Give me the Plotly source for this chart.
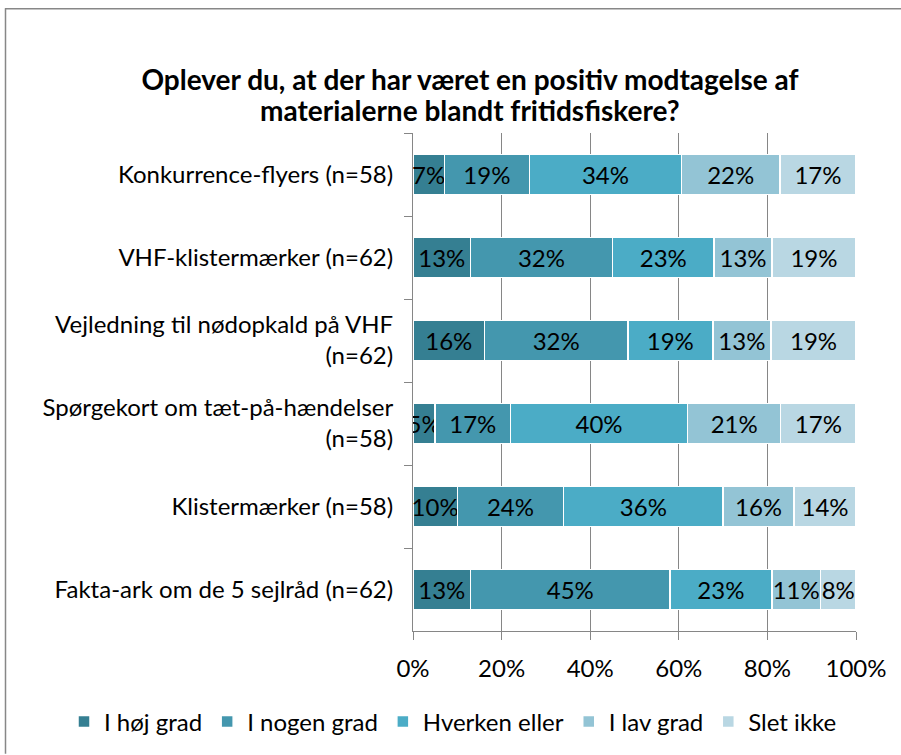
import plotly.graph_objects as go

categories = [
    "Konkurrence-flyers (n=58)",
    "VHF-klistermærker (n=62)",
    "Vejledning til nødopkald på VHF<br>(n=62)",
    "Spørgekort om tæt-på-hændelser<br>(n=58)",
    "Klistermærker (n=58)",
    "Fakta-ark om de 5 sejlråd (n=62)",
]
series_names = ["I høj grad", "I nogen grad", "Hverken eller", "I lav grad", "Slet ikke"]
hoej = [7, 13, 16, 5, 10, 13]
nogen = [19, 32, 32, 17, 24, 45]
hverken = [34, 23, 19, 40, 36, 23]
lav = [22, 13, 13, 21, 16, 11]
slet = [17, 19, 19, 17, 14, 8]
series_values = [hoej, nogen, hverken, lav, slet]
colors = ["#357F92", "#4497AE", "#4BACC6", "#93C4D5", "#B9D7E3"]
x_ticks = [0, 20, 40, 60, 80, 100]
title_lines = ["Oplever du, at der har været en positiv modtagelse af",
               "materialerne blandt fritidsfiskere?"]

FONT = "Lato"
FS = 24
W, H = 901, 755
L, R, T, B = 413, 856, 133, 632
PW, PH = R - L, B - T

def px_x(p):
    return (p - L) / PW

def px_y(p):
    return (B - p) / PH

fig = go.Figure()
for name, vals, col in zip(series_names, series_values, colors):
    fig.add_trace(go.Bar(
        y=categories, x=vals, name=name, orientation="h",
        marker=dict(color=col, line=dict(color="white", width=1.5)),
        text=[f"{v}%" for v in vals], textposition="inside", textangle=0,
        insidetextanchor="middle", constraintext="none",
        textfont=dict(family=FONT, size=FS, color="black"),
        hoverinfo="skip",
    ))

border = dict(color="#878787", width=1.5)
fig.update_layout(
    width=W, height=H,
    barmode="stack", barnorm="percent", bargap=0.52,
    paper_bgcolor="white", plot_bgcolor="white",
    margin=dict(l=L, r=W - R, t=T, b=H - B),
    uniformtext=dict(minsize=FS, mode="show"),
    font=dict(family=FONT, size=FS, color="black"),
    title=dict(
        text="<b>" + title_lines[0] + "</b>",
        x=px_x(470), xref="paper", xanchor="center",
        y=1 - 80 / H, yref="container", yanchor="middle",
        font=dict(family=FONT, size=28, color="black"),
    ),
    annotations=[dict(
        text="<b>" + title_lines[1] + "</b>", showarrow=False,
        xref="paper", yref="paper", x=px_x(470), y=px_y(110),
        xanchor="center", yanchor="middle",
        font=dict(family=FONT, size=28, color="black"),
    )],
    showlegend=True,
    legend=dict(
        orientation="h", xref="paper", yref="paper",
        x=px_x(64), xanchor="left", y=px_y(722), yanchor="middle",
        font=dict(family=FONT, size=FS, color="black"),
        traceorder="normal", itemwidth=30,
    ),
    xaxis=dict(
        range=[0, 100], tickvals=x_ticks, ticktext=[f"{t}%" for t in x_ticks],
        showgrid=True, gridcolor="#868686", gridwidth=1,
        showline=True, linecolor="#868686", linewidth=1,
        ticks="outside", ticklen=8, tickcolor="#868686", ticklabelstandoff=8,
        zeroline=False, fixedrange=True, automargin=False,
        tickfont=dict(family=FONT, size=FS),
    ),
    yaxis=dict(
        autorange="reversed", showline=True, linecolor="#868686", linewidth=1,
        ticks="outside", ticklen=8, tickcolor="#868686", tickson="boundaries",
        showgrid=False, ticklabelstandoff=14, automargin=False,
        tickfont=dict(family=FONT, size=FS),
    ),
    shapes=[
        dict(type="line", xref="paper", yref="paper",
             x0=px_x(5), x1=px_x(901), y0=px_y(8.5), y1=px_y(8.5),
             line=border, layer="above"),
        dict(type="line", xref="paper", yref="paper",
             x0=px_x(5.5), x1=px_x(5.5), y0=px_y(8), y1=px_y(755),
             line=border, layer="above"),
    ],
)

fig.write_html("out.html", config={"displayModeBar": False},
               post_script="document.body.style.margin='0';")
